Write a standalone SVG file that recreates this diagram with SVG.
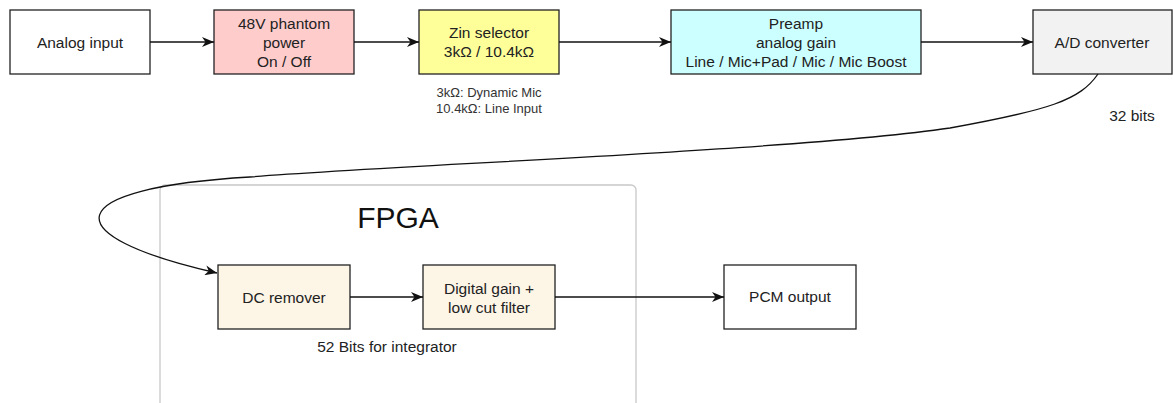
<svg xmlns="http://www.w3.org/2000/svg" width="1173" height="403" viewBox="0 0 1173 403">
<defs>
<style>
.box{stroke:#222;stroke-width:1.3}
.t{font-family:"Liberation Sans",Arial,sans-serif;font-size:15.5px;fill:#222;text-anchor:middle}
.s{font-family:"Liberation Sans",Arial,sans-serif;font-size:13px;fill:#333;text-anchor:middle}
.c{fill:none;stroke:#111;stroke-width:1.3}
</style>
<marker id="arr" viewBox="0 0 12 10" refX="12" refY="5" markerWidth="12" markerHeight="10" markerUnits="userSpaceOnUse" orient="auto">
<path d="M0,0 L12,5 L0,10 L3.5,5 z" fill="#111"/>
</marker>
</defs>
<rect width="1173" height="403" fill="#fff"/>
<g id="fpga">
<rect x="160" y="185" width="476" height="230" rx="5" fill="none" stroke="#c8c8c8" stroke-width="1.3"/>
<text x="398" y="228" font-family="Liberation Sans,Arial,sans-serif" font-size="30" fill="#111" text-anchor="middle">FPGA</text>
</g>
<g id="analog-input">
<rect class="box" x="10" y="10" width="140" height="64" fill="#fff"/>
<text class="t" x="80" y="48">Analog input</text>
</g>
<g id="phantom">
<rect class="box" x="214" y="10" width="140" height="64" fill="#ffcccc"/>
<text class="t" x="284" y="29">48V phantom</text>
<text class="t" x="284" y="48">power</text>
<text class="t" x="284" y="67">On / Off</text>
</g>
<g id="zin">
<rect class="box" x="419" y="10" width="140" height="64" fill="#ffff99"/>
<text class="t" x="489" y="38">Zin selector</text>
<text class="t" x="489" y="57">3kΩ / 10.4kΩ</text>
<text class="s" x="489" y="97">3kΩ: Dynamic Mic</text>
<text class="s" x="489" y="113">10.4kΩ: Line Input</text>
</g>
<g id="preamp">
<rect class="box" x="671" y="10" width="250" height="64" fill="#ccffff"/>
<text class="t" x="796" y="29">Preamp</text>
<text class="t" x="796" y="48">analog gain</text>
<text class="t" x="796" y="67">Line / Mic+Pad / Mic / Mic Boost</text>
</g>
<g id="adc">
<rect class="box" x="1033" y="10" width="139" height="64" fill="#f2f2f2"/>
<text class="t" x="1102" y="48">A/D converter</text>
</g>
<g id="dc-remover">
<rect class="box" x="218" y="265" width="132" height="64" fill="#fdf5e6"/>
<text class="t" x="284" y="303">DC remover</text>
</g>
<g id="digital-gain">
<rect class="box" x="423" y="265" width="132" height="64" fill="#fdf5e6"/>
<text class="t" x="489" y="294">Digital gain +</text>
<text class="t" x="489" y="313">low cut filter</text>
</g>
<g id="pcm-output">
<rect class="box" x="724" y="265" width="132" height="64" fill="#fff"/>
<text class="t" x="790" y="302">PCM output</text>
</g>
<g id="connectors">
<line class="c" x1="150" y1="42" x2="214" y2="42" marker-end="url(#arr)"/>
<line class="c" x1="354" y1="42" x2="419" y2="42" marker-end="url(#arr)"/>
<line class="c" x1="559" y1="42" x2="671" y2="42" marker-end="url(#arr)"/>
<line class="c" x1="921" y1="42" x2="1033" y2="42" marker-end="url(#arr)"/>
<path class="c" d="M1098,74 C1080,100 1050,110 950,128 C800,150 400,165 250,177 C60,188 50,235 217,273" marker-end="url(#arr)"/>
<text class="t" x="1132" y="121">32 bits</text>
<line class="c" x1="350" y1="297" x2="423" y2="297" marker-end="url(#arr)"/>
<line class="c" x1="555" y1="297" x2="724" y2="297" marker-end="url(#arr)"/>
<text class="t" x="387" y="352">52 Bits for integrator</text>
</g>
</svg>
